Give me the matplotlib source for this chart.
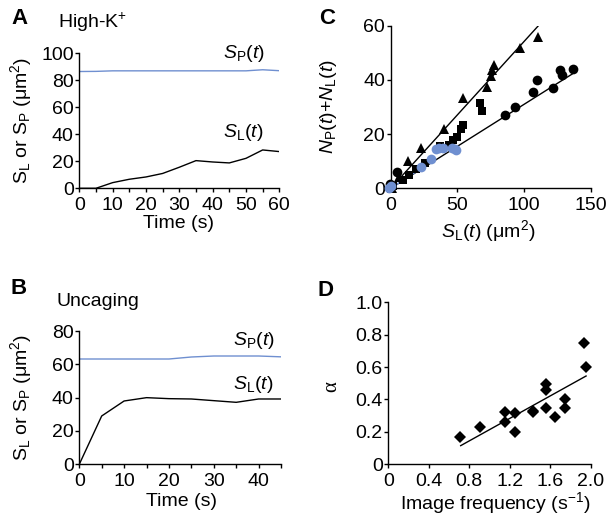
import numpy as np
import matplotlib

matplotlib.use("Agg")
import matplotlib.pyplot as plt

plt.rcParams["font.family"] = ["Liberation Sans", "DejaVu Sans"]
plt.rcParams["mathtext.fontset"] = "custom"
plt.rcParams["mathtext.rm"] = "Liberation Sans"
plt.rcParams["mathtext.it"] = "Liberation Sans:italic"
plt.rcParams["mathtext.bf"] = "Liberation Sans:bold"

BLUE = "#6f8fd0"
FS = 14

# panel A: high K+
time_a = [0, 5, 10, 15, 20, 25, 30, 35, 40, 45, 50, 55, 60]
sl_a = [0, 0, 4.2, 6.7, 8.4, 11, 15.6, 20.5, 19.5, 18.8, 22.2, 28.4, 27.2]
sp_a = [86.5, 86.6, 87, 87, 87, 87, 87, 87, 87, 87, 87, 87.8, 87.1]

# panel B: uncaging
time_b = [0, 5, 10, 15, 20, 25, 30, 35, 40, 45]
sl_b = [0, 29, 38, 40, 39.4, 39.2, 38.2, 37.2, 39.2, 39.2]
sp_b = [63.2, 63.2, 63.2, 63.2, 63.2, 64.4, 65, 65, 65, 64.5]

# panel C: N_P + N_L vs S_L
tri_x = [1, 6, 13, 23, 40, 54.5, 72, 75.5, 76, 77.5, 97, 110.5]
tri_y = [0, 4, 10, 15, 22, 33.5, 37.5, 41.5, 43.5, 45.5, 51.7, 56]
sq_x = [2, 9, 14, 19, 26, 37, 44, 47, 50, 53, 54.5, 67, 68.5]
sq_y = [1, 3, 5, 7, 9.5, 15.5, 16, 18, 19, 22, 23.5, 31.5, 28.5]
circ_x = [-0.5, 4.5, 86, 93, 107, 109.5, 122, 127, 128.5, 137]
circ_y = [1.5, 6, 27, 30, 35.5, 40, 37, 43.5, 42, 44]
blue_x = [-1, 0, 23, 30.5, 34, 36, 39, 46, 48, 49]
blue_y = [0, 1, 8, 11, 14.5, 15, 15, 15, 14.5, 14]
# fitted lines: slope and x extent
fit_slopes = [0.542, 0.31, 0.32]
fit_xmax = [110.7, 136, 32]
fit_colors = ["black", "black", BLUE]

# panel D: alpha vs image frequency
freq = [0.71, 0.91, 1.15, 1.15, 1.25, 1.25, 1.43, 1.43, 1.56, 1.56, 1.56, 1.65, 1.75, 1.75, 1.93, 1.95]
alpha = [0.17, 0.23, 0.325, 0.26, 0.315, 0.20, 0.325, 0.33, 0.495, 0.46, 0.345, 0.29, 0.405, 0.345, 0.75, 0.60]
fit_d = (0.347, -0.133)
fit_d_x = [0.715, 1.954]


def style(ax, xlab_pos, ylab_pos):
    for side in ("top", "right"):
        ax.spines[side].set_visible(False)
    for side in ("left", "bottom"):
        ax.spines[side].set_linewidth(1.0)
    ax.tick_params(which="both", direction="out", length=3, width=1.0, labelsize=FS)
    ax.tick_params(axis="x", pad=3)
    ax.tick_params(axis="y", pad=1)
    ax.xaxis.set_label_coords(*xlab_pos)
    ax.yaxis.set_label_coords(*ylab_pos)
    ax.yaxis.label.set_va("center")


fig = plt.figure(figsize=(6.08, 5.26), dpi=100)

ax_a = fig.add_axes([0.1304, 0.642, 0.329, 0.2567])
ax_b = fig.add_axes([0.1304, 0.1173, 0.3318, 0.2534])
ax_c = fig.add_axes([0.6426, 0.642, 0.329, 0.309])
ax_d = fig.add_axes([0.6387, 0.1173, 0.3329, 0.308])

ylab_s = r"S$_\mathrm{L}$ or S$_\mathrm{P}$ (μm$^\mathrm{2}$)"
sp_txt = r"$S_\mathrm{P}(t)$"
sl_txt = r"$S_\mathrm{L}(t)$"

# A
ax_a.plot(time_a, sp_a, color=BLUE, lw=1.0)
ax_a.plot(time_a, sl_a, color="black", lw=1.0)
ax_a.set_xlim(0, 60)
ax_a.set_ylim(0, 100)
ax_a.set_xticks(range(0, 61, 10))
ax_a.set_xticks(range(5, 60, 10), minor=True)
ax_a.set_yticks(range(0, 101, 20))
ax_a.set_xlabel("Time (s)", fontsize=FS)
ax_a.set_ylabel(ylab_s, fontsize=FS)
ax_a.text(43, 100, sp_txt, fontsize=FS, va="center", ha="left")
ax_a.text(43, 41.5, sl_txt, fontsize=FS, va="center", ha="left")
style(ax_a, (0.495, -0.195), (-0.29, 0.5))

# B
ax_b.plot(time_b, sp_b, color=BLUE, lw=1.0)
ax_b.plot(time_b, sl_b, color="black", lw=1.0)
ax_b.set_xlim(0, 45)
ax_b.set_ylim(0, 80)
ax_b.set_xticks(range(0, 41, 10))
ax_b.set_xticks(range(5, 46, 10), minor=True)
ax_b.set_yticks(range(0, 81, 20))
ax_b.set_xlabel("Time (s)", fontsize=FS)
ax_b.set_ylabel(ylab_s, fontsize=FS)
ax_b.text(34.4, 74.6, sp_txt, fontsize=FS, va="center", ha="left")
ax_b.text(34.4, 47.6, sl_txt, fontsize=FS, va="center", ha="left")
style(ax_b, (0.508, -0.215), (-0.289, 0.5))

# C
for slope, xmax, col in zip(fit_slopes, fit_xmax, fit_colors):
    xs = np.array([0, xmax])
    ax_c.plot(xs, slope * xs, color=col, lw=1.0, zorder=2)
ax_c.plot(tri_x, tri_y, "^", color="black", ms=7.5, mew=0, clip_on=False, zorder=3)
ax_c.plot(sq_x, sq_y, "s", color="black", ms=6, mew=0, clip_on=False, zorder=3)
ax_c.plot(circ_x, circ_y, "o", color="black", ms=7, mew=0, clip_on=False, zorder=3)
ax_c.plot(blue_x, blue_y, "o", color=BLUE, ms=7, mew=0, clip_on=False, zorder=4)
ax_c.set_xlim(0, 150)
ax_c.set_ylim(0, 60)
ax_c.set_xticks([0, 50, 100, 150])
ax_c.set_yticks([0, 20, 40, 60])
ax_c.set_xlabel(r"$S_\mathrm{L}(t)$ (μm$^\mathrm{2}$)", fontsize=FS)
ax_c.set_ylabel(r"$N_\mathrm{P}(t)$+$N_\mathrm{L}(t)$", fontsize=FS)
style(ax_c, (0.487, -0.183), (-0.311, 0.5))

# D
xd = np.array(fit_d_x)
ax_d.plot(xd, fit_d[0] * xd + fit_d[1], color="black", lw=1.0)
ax_d.plot(freq, alpha, "D", color="black", ms=5.8, mew=0)
ax_d.set_xlim(0, 2.0)
ax_d.set_ylim(0, 1.0)
ax_d.set_xticks([0, 0.4, 0.8, 1.2, 1.6, 2.0])
ax_d.set_xticklabels(["0", "0.4", "0.8", "1.2", "1.6", "2.0"])
ax_d.set_yticks([0, 0.2, 0.4, 0.6, 0.8, 1.0])
ax_d.set_yticklabels(["0", "0.2", "0.4", "0.6", "0.8", "1.0"])
ax_d.set_xlabel(r"Image frequency (s$^{\mathrm{-1}}$)", fontsize=FS)
ax_d.set_ylabel("α", fontsize=15, family="Liberation Serif")
style(ax_d, (0.527, -0.16), (-0.278, 0.477))

# panel letters and titles
for letter, x, y in [("A", 11, 19), ("B", 11, 289), ("C", 319, 19), ("D", 317, 291)]:
    fig.text(x / 608, 1 - y / 526, letter, fontsize=16, fontweight="bold", va="center", ha="left")
fig.text(58 / 608, 1 - 22 / 526, "High-K$^\mathrm{+}$", fontsize=FS, va="center", ha="left")
fig.text(57 / 608, 1 - 302 / 526, "Uncaging", fontsize=FS, va="center", ha="left")

fig.savefig("out.png", dpi=100)
